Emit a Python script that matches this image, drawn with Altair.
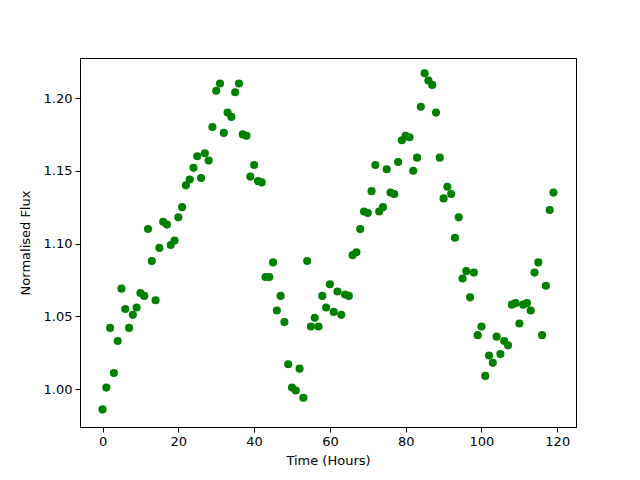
import altair as alt
import pandas as pd

time_hours = list(range(120))
flux = [
    0.986, 1.001, 1.042, 1.011, 1.033, 1.069, 1.055, 1.042, 1.051, 1.056,
    1.066, 1.064, 1.110, 1.088, 1.061, 1.097, 1.115, 1.113, 1.099, 1.102,
    1.118, 1.125, 1.140, 1.144, 1.152, 1.160, 1.145, 1.162, 1.157, 1.180,
    1.205, 1.210, 1.176, 1.190, 1.187, 1.204, 1.210, 1.175, 1.174, 1.146,
    1.154, 1.143, 1.142, 1.077, 1.077, 1.087, 1.054, 1.064, 1.046, 1.017,
    1.001, 0.999, 1.014, 0.994, 1.088, 1.043, 1.049, 1.043, 1.064, 1.056,
    1.072, 1.053, 1.067, 1.051, 1.065, 1.064, 1.092, 1.094, 1.110, 1.122,
    1.121, 1.136, 1.154, 1.122, 1.125, 1.151, 1.135, 1.134, 1.156, 1.171,
    1.174, 1.173, 1.150, 1.159, 1.194, 1.217, 1.212, 1.209, 1.190, 1.159,
    1.131, 1.139, 1.134, 1.104, 1.118, 1.076, 1.081, 1.063, 1.080, 1.037,
    1.043, 1.009, 1.023, 1.018, 1.036, 1.024, 1.033, 1.030, 1.058, 1.059,
    1.045, 1.058, 1.059, 1.054, 1.080, 1.087, 1.037, 1.071, 1.123, 1.135,
]
x_ticks = [0, 20, 40, 60, 80, 100, 120]
y_ticks = [1.00, 1.05, 1.10, 1.15, 1.20]

df = pd.DataFrame({"time": time_hours, "flux": flux})

font = "DejaVu Sans"

chart = alt.Chart(df).mark_circle(size=66, color="#008000", opacity=1).encode(
    x=alt.X("time:Q", scale=alt.Scale(domain=[-5.95, 124.95], nice=False, zero=False),
            axis=alt.Axis(values=x_ticks, title="Time (Hours)", format="d")),
    y=alt.Y("flux:Q", scale=alt.Scale(domain=[0.9739, 1.2275], nice=False, zero=False),
            axis=alt.Axis(values=y_ticks, title="Normalised Flux", format=".2f")),
).properties(
    width=496, height=369,
    autosize=alt.AutoSizeParams(type="none"),
    padding={"left": 72, "top": 50, "right": 56, "bottom": 45},
    background="white",
).configure_view(
    stroke="black", strokeWidth=1
).configure_axis(
    grid=False,
    domainColor="black", domainWidth=1,
    tickColor="black", tickSize=5, tickWidth=1,
    labelColor="black", labelFont=font, labelFontSize=13, labelPadding=3,
    titleColor="black", titleFont=font, titleFontSize=13, titleFontWeight="normal",
).configure_axisX(titlePadding=6).configure_axisY(titlePadding=11)

chart.save("out.html", embed_options={"renderer": "svg", "actions": False})
